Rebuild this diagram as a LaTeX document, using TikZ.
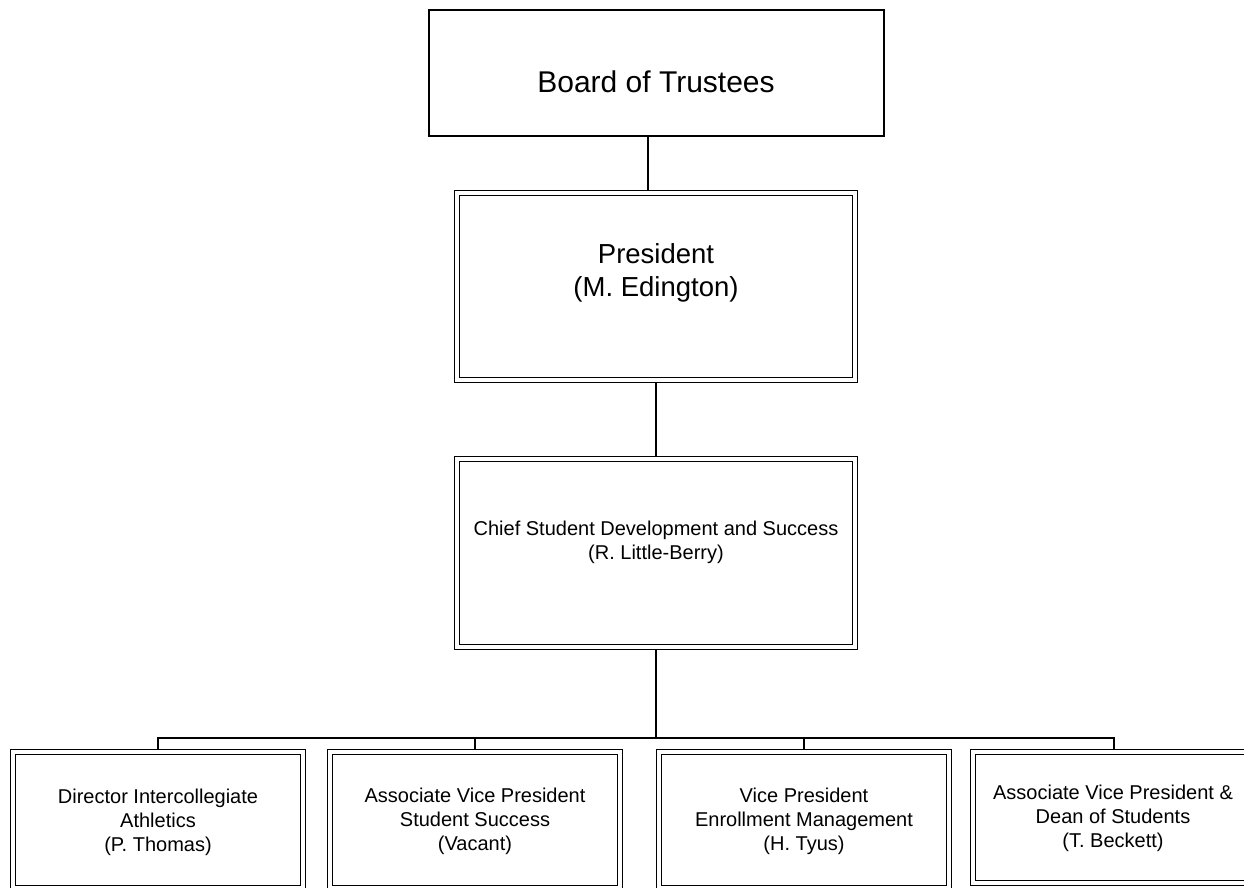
\documentclass[tikz,border=0pt]{standalone}
\usepackage{fontspec}
\setmainfont{Liberation Sans}
\begin{document}
\begin{tikzpicture}[x=1pt,y=-1pt,
  sbox/.style={draw, line width=1.5pt, rectangle, inner sep=0pt},
  dbox/.style={draw, line width=1.3pt, double, double distance=3.4pt,
               rectangle, inner sep=0pt, outer sep=3pt},
  link/.style={line width=1.6pt},
  lbl/.style={font=\fontsize{20}{24}\selectfont, align=center, inner sep=0pt, anchor=base},
  bigl/.style={font=\fontsize{27.5}{33}\selectfont, align=center, inner sep=0pt, anchor=base}
]
\useasboundingbox (0,0) rectangle (1244,887);
\clip (0,0) rectangle (1244,887);

% boxes
\node[sbox, minimum width=455pt, minimum height=126pt] (board) at (656.5,73) {};
\node[dbox, minimum width=398pt, minimum height=187pt] (pres) at (656,286.5) {};
\node[dbox, minimum width=398pt, minimum height=188pt] (chief) at (656,553) {};
\node[dbox, minimum width=290pt, minimum height=136pt] (ath) at (158,820) {};
\node[dbox, minimum width=290pt, minimum height=136pt] (succ) at (475,820) {};
\node[dbox, minimum width=290pt, minimum height=136pt] (enrol) at (804,820) {};
\node[dbox, minimum width=290pt, minimum height=131pt] (dean) at (1118,817.5) {};

% labels (base anchor sits on the last line)
\node[font=\fontsize{30}{36}\selectfont, inner sep=0pt, anchor=base] (boardl) at (656,92) {Board of Trustees};
\node[bigl] (presl) at (656,296) {President\\(M. Edington)};
\node[lbl] (chiefl) at (656,559) {Chief Student Development and Success\\(R. Little-Berry)};
\node[lbl] (athl) at (158,851) {Director Intercollegiate\\Athletics\\(P. Thomas)};
\node[lbl] (succl) at (475,850) {Associate Vice President\\Student Success\\(Vacant)};
\node[lbl] (enroll) at (804,850) {Vice President\\Enrollment Management\\(H. Tyus)};
\node[lbl] (deanl) at (1113,847) {Associate Vice President \&\\Dean of Students\\(T. Beckett)};

% connectors
\coordinate (bus) at (656,738);
\draw[link] ([xshift=-8.5pt]board.south) -- ([xshift=-8.5pt]board.south |- pres.north);
\draw[link] (pres.south) -- (chief.north);
\draw[link] (chief.south) -- (bus);
\draw[link] (ath.north) |- (bus) -| ([xshift=-4pt]dean.north);
\draw[link] (succ.north) -- (succ.north |- bus);
\draw[link] (enrol.north) -- (enrol.north |- bus);
\end{tikzpicture}
\end{document}
